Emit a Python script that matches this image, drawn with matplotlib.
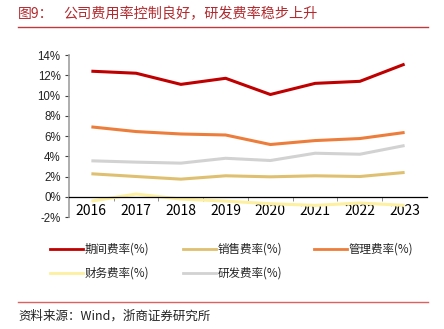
import matplotlib
matplotlib.use("Agg")
import matplotlib.pyplot as plt
from matplotlib.lines import Line2D

plt.rcParams['font.family'] = ['Noto Sans CJK SC', 'DejaVu Sans']

years = ['2016', '2017', '2018', '2019', '2020', '2021', '2022', '2023']
period_rate = [12.4, 12.2, 11.1, 11.7, 10.1, 11.2, 11.4, 13.1]
sales_rate = [2.27, 2.0, 1.74, 2.07, 1.97, 2.07, 2.0, 2.4]
admin_rate = [6.9, 6.44, 6.2, 6.1, 5.16, 5.55, 5.75, 6.35]
finance_rate = [-0.43, 0.27, -0.23, -0.43, -0.69, -0.85, -0.62, -0.85]
rd_rate = [3.55, 3.42, 3.32, 3.8, 3.58, 4.3, 4.2, 5.06]
yticks = [-2, 0, 2, 4, 6, 8, 10, 12, 14]

series = [
    ('期间费率(%)', period_rate, '#c00000'),
    ('销售费率(%)', sales_rate, '#dfc071'),
    ('管理费率(%)', admin_rate, '#ed7d3a'),
    ('财务费率(%)', finance_rate, '#fdf0a0'),
    ('研发费率(%)', rd_rate, '#d2d2d2'),
]

fig = plt.figure(figsize=(4.44, 3.29), dpi=100)
ax = fig.add_axes([0.1554, 0.3404, 0.8063, 0.4924])

x = list(range(len(years)))
for name, vals, col in series:
    ax.plot(x, vals, color=col, lw=2.2, solid_capstyle='butt')

ax.set_xlim(-0.5, len(years) - 0.5)
ax.set_ylim(-2, 14)
ax.set_yticks(yticks)
ax.set_yticklabels([f'{v}%' for v in yticks], fontsize=8.3, family='Liberation Sans',
                   color='#222222')
ax.set_xticks(x)
ax.set_xticklabels(years, fontsize=8.3, family='Liberation Sans', color='#222222')
ax.set_xticks([i + 0.5 for i in range(len(years) - 1)], minor=True)
ax.tick_params(axis='x', which='major', length=0, pad=5)
ax.tick_params(axis='x', which='minor', length=3, color='#808080', direction='out')
ax.tick_params(axis='y', length=3, color='#404040', pad=3)

for s in ['top', 'right']:
    ax.spines[s].set_visible(False)
ax.spines['left'].set_color('#a0a0a0')
ax.spines['left'].set_linewidth(1.2)
ax.spines['bottom'].set_position(('data', 0))
ax.spines['bottom'].set_color('#000000')
ax.spines['bottom'].set_linewidth(0.9)

# legend
rows = [(249, [0, 1, 2]), (273, [3, 4])]
col_x = [50, 183, 314]
for ypix, idxs in rows:
    for j, i in enumerate(idxs):
        name, vals, col = series[i]
        x0 = col_x[j] / 444
        y0 = 1 - ypix / 329
        fig.add_artist(Line2D([x0, x0 + 33 / 444], [y0, y0], color=col, lw=2.0,
                              transform=fig.transFigure))
        fig.text(x0 + 35 / 444, y0, name, fontsize=8.3, va='center', ha='left', color='#222222')

# title and source
fig.text(18 / 444, 1 - 14 / 329, '图9：', fontsize=10,
         color='#b22a2e', va='center', ha='left')
fig.text(63 / 444, 1 - 14 / 329, '公司费用率控制良好，研发费率稳步上升', fontsize=10.2,
         color='#b22a2e', va='center', ha='left')
fig.add_artist(Line2D([18 / 444, 428 / 444], [1 - 27 / 329, 1 - 27 / 329], color='#c0393d',
                      lw=1.0, transform=fig.transFigure))
fig.add_artist(Line2D([18 / 444, 428 / 444], [1 - 302 / 329, 1 - 302 / 329], color='#e06060',
                      lw=1.0, transform=fig.transFigure))
fig.text(18 / 444, 1 - 316 / 329, '资料来源：Wind，浙商证券研究所', fontsize=9,
         color='#222222', va='center', ha='left')

fig.savefig('out.png', dpi=100)
